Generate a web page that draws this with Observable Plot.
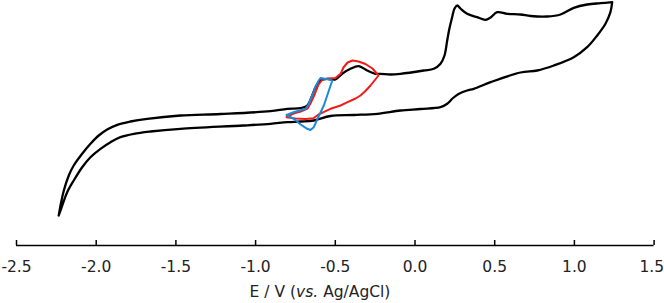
<!DOCTYPE html>
<html>
<head>
<meta charset="utf-8">
<script src="https://cdn.jsdelivr.net/npm/d3@7"></script>
<script src="https://cdn.jsdelivr.net/npm/@observablehq/plot@0.6"></script>
<style>
  html, body { margin: 0; padding: 0; background: #fff; }
  #chart svg { display: block; }
</style>
</head>
<body>
<div id="chart"></div>
<script>
// Potential (V vs Ag/AgCl) and current (arbitrary units)
// Black CV: forward (upper) branch from -2.235 V to 1.237 V
const blackUpperE = [-2.235, -2.220, -2.203, -2.172, -2.141, -2.088, -2.036, -1.984, -1.931, -1.868, -1.785, -1.680, -1.471, -1.220, -0.907, -0.802, -0.718, -0.676, -0.645, -0.624, -0.593, -0.551, -0.499, -0.457, -0.405, -0.353, -0.300, -0.248, -0.216, -0.154, -0.091, 0.055, 0.118, 0.160, 0.185, 0.202, 0.216, 0.233, 0.248, 0.265, 0.285, 0.327, 0.390, 0.442, 0.474, 0.516, 0.578, 0.662, 0.725, 0.829, 0.913, 0.996, 1.080, 1.164, 1.237];
const blackUpperI = [-9.50, -8.17, -7.00, -5.50, -4.50, -3.33, -2.33, -1.50, -0.90, -0.43, -0.10, 0.17, 0.50, 0.65, 0.93, 1.17, 1.23, 1.50, 2.50, 3.33, 4.00, 4.17, 4.10, 4.67, 5.17, 5.43, 5.00, 4.67, 4.67, 4.60, 4.67, 5.00, 5.17, 5.67, 6.50, 8.00, 9.20, 10.33, 11.20, 11.50, 11.20, 10.67, 10.33, 10.07, 10.30, 10.83, 10.67, 10.60, 10.45, 10.40, 10.60, 11.27, 11.60, 11.73, 11.83];
// Black CV: reverse (lower) branch from 1.237 V back to -2.235 V
const blackLowerE = [1.237, 1.226, 1.195, 1.143, 1.080, 0.996, 0.871, 0.767, 0.662, 0.474, 0.369, 0.327, 0.273, 0.235, 0.202, 0.160, 0.035, -0.091, -0.237, -0.384, -0.530, -0.635, -0.718, -0.802, -0.907, -1.076, -1.471, -1.659, -1.764, -1.848, -1.910, -1.973, -2.036, -2.088, -2.141, -2.182, -2.213, -2.235];
const blackLowerI = [11.83, 10.83, 9.67, 8.50, 7.33, 6.33, 5.50, 5.00, 4.80, 3.83, 3.17, 3.00, 2.65, 2.20, 1.67, 1.33, 1.15, 1.00, 0.67, 0.55, 0.45, 0.00, -0.10, -0.17, -0.33, -0.50, -0.83, -1.10, -1.33, -1.67, -2.17, -2.83, -3.67, -4.67, -6.00, -7.17, -8.50, -9.50];
// Red CV (-0.806 V to -0.229 V and back)
const redE = [-0.806, -0.750, -0.687, -0.637, -0.605, -0.574, -0.530, -0.467, -0.423, -0.373, -0.342, -0.311, -0.279, -0.229, -0.267, -0.311, -0.354, -0.392, -0.423, -0.449, -0.467, -0.499, -0.543, -0.580, -0.605, -0.630, -0.656, -0.674, -0.718, -0.762, -0.806];
const redI = [0.33, 0.20, 0.15, 0.23, 0.60, 0.83, 1.17, 1.50, 1.83, 2.20, 2.50, 2.95, 3.50, 4.50, 5.20, 5.65, 5.90, 6.00, 5.80, 5.30, 4.67, 4.25, 4.20, 4.10, 3.60, 2.60, 1.70, 1.20, 0.90, 0.70, 0.33];
// Blue CV (-0.806 V to -0.519 V and back)
const blueE = [-0.806, -0.762, -0.687, -0.668, -0.645, -0.624, -0.604, -0.593, -0.555, -0.519, -0.536, -0.555, -0.572, -0.605, -0.635, -0.656, -0.676, -0.718, -0.760, -0.806];
const blueI = [0.55, 0.83, 1.17, 1.60, 2.50, 3.40, 4.00, 4.25, 4.15, 4.00, 3.20, 2.30, 1.50, 0.40, -0.67, -0.95, -0.83, -0.40, 0.17, 0.55];

const tickValues = [-2.5, -2.0, -1.5, -1.0, -0.5, 0.0, 0.5, 1.0, 1.5];
const tickLabels = ["-2.5", "-2.0", "-1.5", "-1.0", "-0.5", "0.0", "0.5", "1.0", "1.5"];
const xLabelParts = [["E / V (", false], ["vs.", true], [" Ag/AgCl)", false]];

const toPts = (E, I) => E.map((e, i) => ({E: e, I: I[i]}));
const black = toPts(blackUpperE, blackUpperI).concat(toPts(blackLowerE, blackLowerI));
const red = toPts(redE, redI);
const blue = toPts(blueE, blueI);
const ticks = tickValues.map((v, i) => ({v, label: tickLabels[i]}));
const lastTick = ticks.slice(-1);
const innerTicks = ticks.slice(0, -1);

const yMin = -12.5, yMax = 12;
const FONT = "'DejaVu Sans', sans-serif";
const FS = 15.5;
const labelDy = 21.5;

const chart = Plot.plot({
  width: 664,
  height: 303,
  marginTop: 0,
  marginBottom: 58,
  marginLeft: 16,
  marginRight: 10.4,
  style: {fontFamily: FONT, fontSize: FS + "px", background: "#fff", color: "#000"},
  x: {domain: [-2.5, 1.5], axis: null},
  y: {domain: [yMin, yMax], axis: null},
  marks: [
    Plot.ruleY([yMin], {stroke: "#000", strokeWidth: 1.5}),
    Plot.ruleX(ticks, {x: "v", y1: yMin, y2: yMin + 0.5, stroke: "#000", strokeWidth: 1.5}),
    Plot.text(innerTicks, {x: "v", y: yMin, text: "label", dy: labelDy, fill: "#222", fontSize: FS}),
    Plot.text(lastTick, {x: "v", y: yMin, text: "label", dy: labelDy, dx: 10, textAnchor: "end", fill: "#222", fontSize: FS}),
    Plot.line(black, {x: "E", y: "I", stroke: "#000", strokeWidth: 2.3, curve: "catmull-rom", strokeLinejoin: "round"}),
    Plot.line(red, {x: "E", y: "I", stroke: "#f21a1a", strokeWidth: 2, curve: "linear", strokeLinejoin: "round"}),
    Plot.line(blue, {x: "E", y: "I", stroke: "#1a8ad6", strokeWidth: 2, curve: "linear", strokeLinejoin: "round"})
  ]
});

const svg = d3.select(chart);
const t = svg.append("text")
  .attr("x", 320)
  .attr("y", 297)
  .attr("text-anchor", "middle")
  .attr("font-family", FONT)
  .attr("font-size", FS)
  .attr("fill", "#222");
xLabelParts.forEach(([s, it]) => {
  const sp = t.append("tspan").text(s);
  if (it) sp.attr("font-style", "italic");
});

document.getElementById("chart").appendChild(chart);
</script>
</body>
</html>
